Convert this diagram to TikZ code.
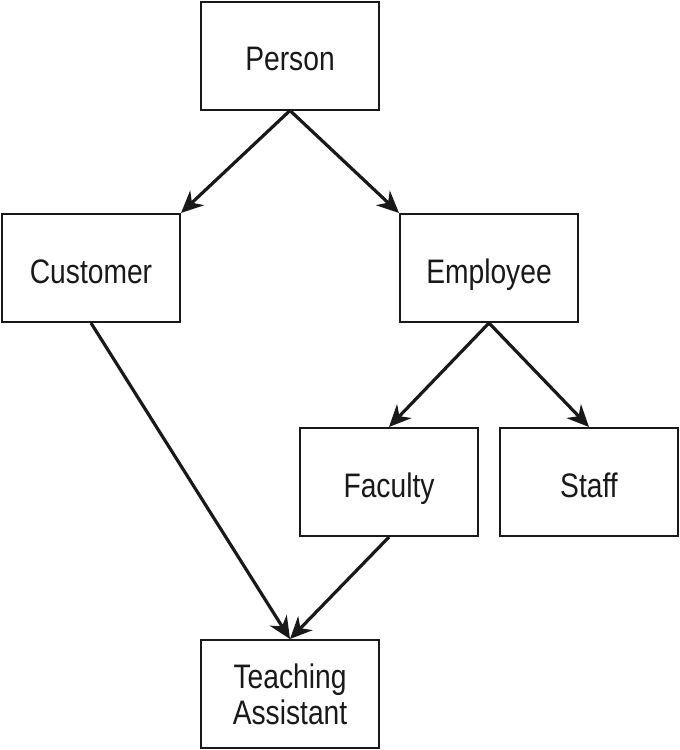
\documentclass[tikz,border=0pt]{standalone}
\usepackage{fontspec}
\setmainfont[FakeStretch=0.83]{Liberation Sans}
\usetikzlibrary{arrows.meta}
\begin{document}
\begin{tikzpicture}[x=1pt,y=-1pt,
  box/.style={draw=black!90, line width=2pt, minimum width=178pt, minimum height=108pt, inner sep=0pt, align=center, font=\fontsize{34}{36}\selectfont, text=black!90},
  one/.style={text height=30pt, text depth=0pt},
  conn/.style={line width=3.2pt, draw=black!90, -{Stealth[length=22pt,width=20pt,inset=7pt]}}]
\useasboundingbox (0,0) rectangle (680,750);
\node[box,one] (person) at (290,55.5) {Person};
\node[box,one] (customer) at (91,268) {Customer};
\node[box,one] (employee) at (489,268) {Employee};
\node[box,one] (faculty) at (389,482) {Faculty};
\node[box,one] (staff) at (589,482) {Staff};
\node[box] (ta) at (290,694) {Teaching\\Assistant};
\draw[conn] (person.south) -- (customer.north east);
\draw[conn] (person.south) -- (employee.north west);
\draw[conn] (employee.south) -- (faculty.north);
\draw[conn] (employee.south) -- (staff.north);
\draw[conn] (customer.south) -- (ta.north);
\draw[conn] (faculty.south) -- (ta.north);
\end{tikzpicture}
\end{document}
